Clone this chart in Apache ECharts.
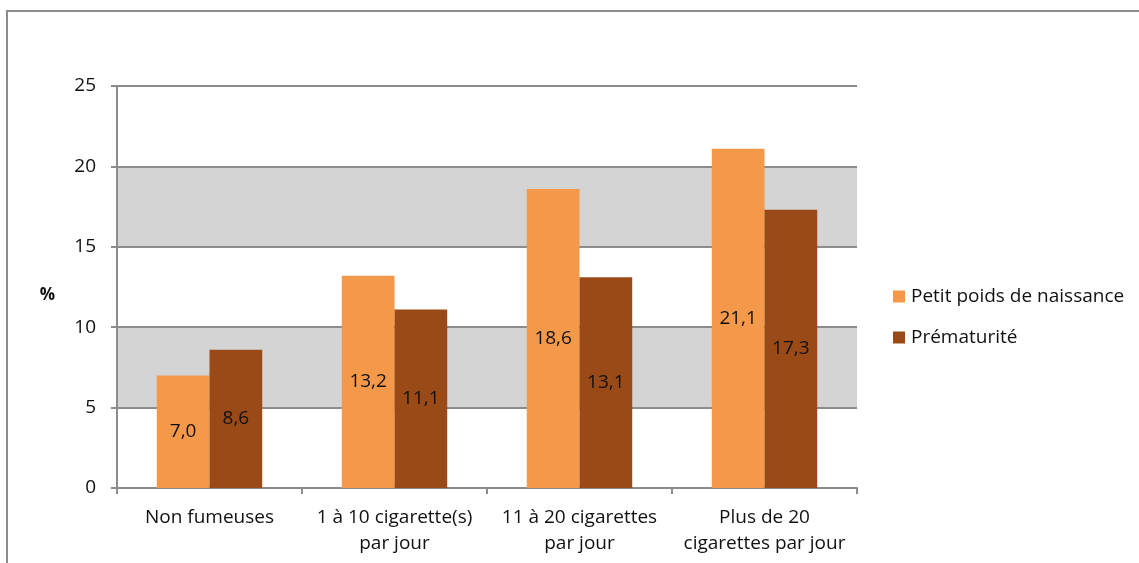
<!DOCTYPE html>
<html>
<head>
<meta charset="utf-8">
<script src="https://cdn.jsdelivr.net/npm/echarts@6/dist/echarts.min.js"></script>
<style>
html,body{margin:0;padding:0;background:#fff;}
#chart{width:1139px;height:563px;}
</style>
</head>
<body>
<div id="chart"></div>
<script>
const categories = ["Non fumeuses", "1 à 10 cigarette(s)\npar jour", "11 à 20 cigarettes\npar jour", "Plus de 20\ncigarettes par jour"];
const petitPoids = [7.0, 13.2, 18.6, 21.1];
const prematurite = [8.6, 11.1, 13.1, 17.3];
const seriesNames = ["Petit poids de naissance", "Prématurité"];
const yTicks = { min: 0, max: 25, interval: 5 };

const FONT = '"Open Sans", "Noto Sans", sans-serif';
const chart = echarts.init(document.getElementById('chart'), null, { renderer: 'canvas' });
const labelFmt = p => p.value.toFixed(1).replace('.', ',');

chart.setOption({
  animation: false,
  backgroundColor: '#fff',
  graphic: [{
    type: 'rect',
    shape: { x: 7, y: 11, width: 1200, height: 600 },
    style: { fill: 'none', stroke: '#8c8c8c', lineWidth: 2 },
    silent: true
  }],
  grid: { left: 117, right: 282, top: 86, bottom: 75 },
  legend: {
    orient: 'vertical',
    left: 893,
    top: 287,
    padding: 0,
    itemWidth: 12,
    itemHeight: 12,
    itemGap: 22,
    icon: 'rect',
    textStyle: { fontFamily: FONT, fontSize: 19, color: '#111', padding: [0, 0, 0, 1] },
    data: seriesNames
  },
  xAxis: {
    type: 'category',
    data: categories,
    axisLine: { lineStyle: { color: '#8c8c8c', width: 2 } },
    axisTick: { show: true, length: 6, lineStyle: { color: '#8c8c8c', width: 2 } },
    axisLabel: { fontFamily: FONT, fontSize: 19, color: '#111', lineHeight: 26, margin: 17, interval: 0 }
  },
  yAxis: {
    type: 'value',
    min: yTicks.min, max: yTicks.max, interval: yTicks.interval,
    name: '%',
    nameLocation: 'middle',
    nameRotate: 0,
    nameGap: 62,
    nameTextStyle: { fontFamily: FONT, fontSize: 17, fontWeight: 'bold', color: '#111', verticalAlign: 'top' },
    axisLine: { show: true, lineStyle: { color: '#8c8c8c', width: 2 } },
    axisTick: { show: true, length: 6, lineStyle: { color: '#8c8c8c', width: 2 } },
    axisLabel: { fontFamily: FONT, fontSize: 19, color: '#111', margin: 21 },
    splitLine: { show: true, lineStyle: { color: '#8c8c8c', width: 2 } },
    splitArea: { show: true, areaStyle: { color: ['rgba(255,255,255,0)', '#d4d4d4'] } }
  },
  series: [
    {
      name: seriesNames[0], type: 'bar', data: petitPoids,
      barGap: '0%', barCategoryGap: '43%',
      itemStyle: { color: '#f4984a' },
      label: { show: true, position: 'inside', formatter: labelFmt, fontFamily: FONT, fontSize: 19, color: '#111' }
    },
    {
      name: seriesNames[1], type: 'bar', data: prematurite,
      barGap: '0%', barCategoryGap: '43%',
      itemStyle: { color: '#9a4a17' },
      label: { show: true, position: 'inside', formatter: labelFmt, fontFamily: FONT, fontSize: 19, color: '#111' }
    }
  ]
});
</script>
</body>
</html>
